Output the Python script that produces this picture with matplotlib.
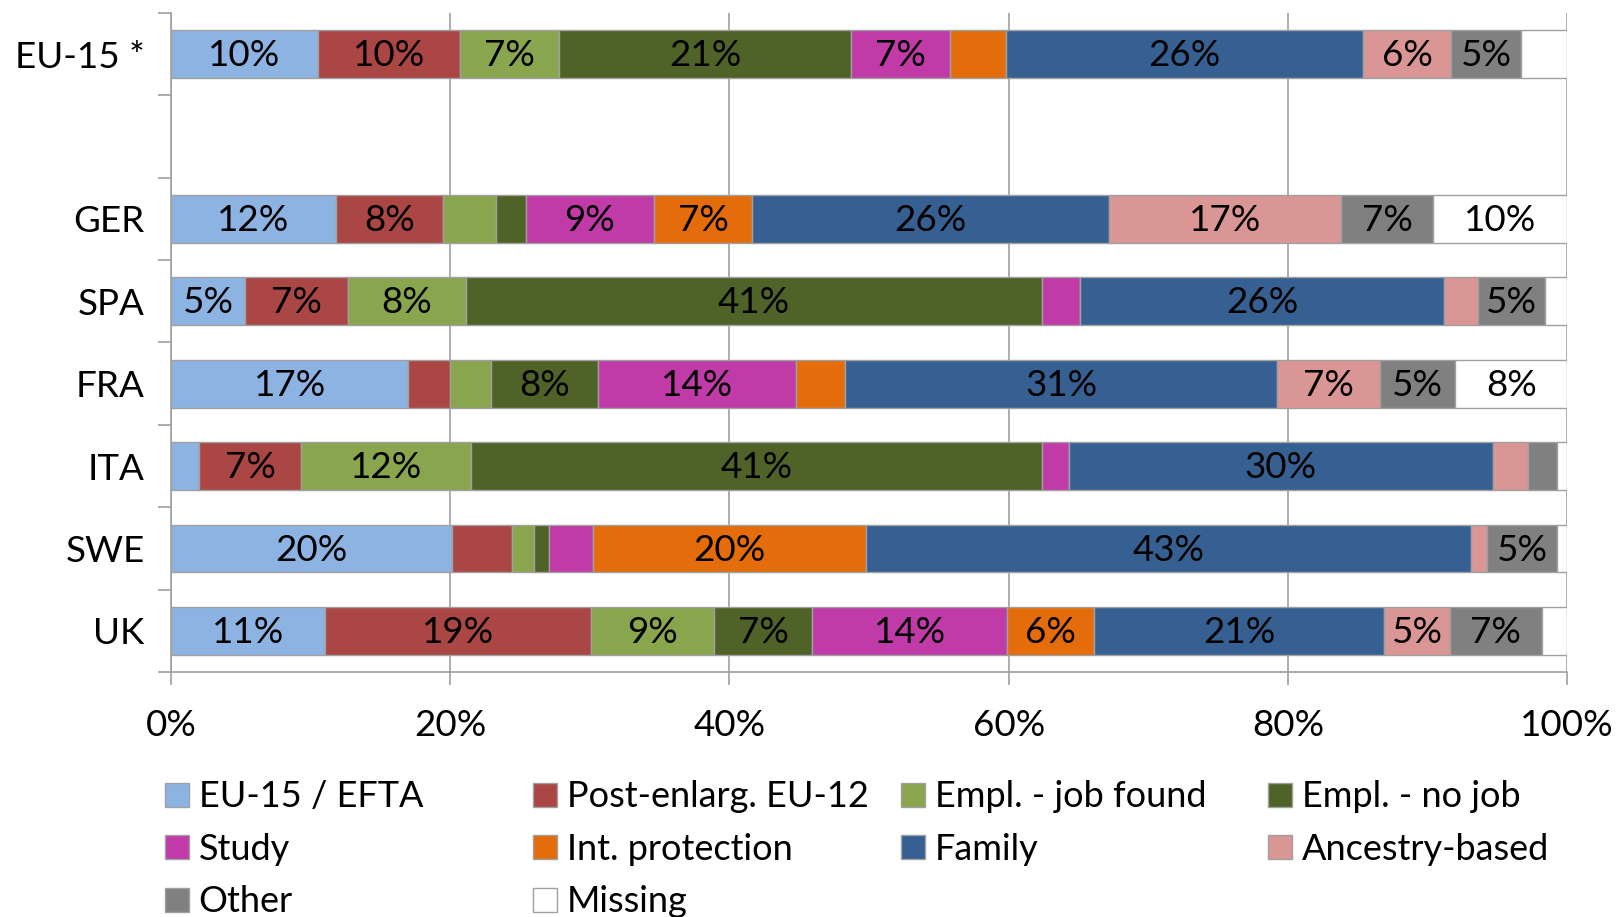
import numpy as np
import matplotlib
matplotlib.use('Agg')
import matplotlib.pyplot as plt
from matplotlib.patches import Patch

plt.rcParams['font.family'] = ['Lato', 'DejaVu Sans']

# categories (the blank row between EU-15 and GER is just a gap)
countries = ['EU-15 *', 'GER', 'SPA', 'FRA', 'ITA', 'SWE', 'UK']
rows = [0, 2, 3, 4, 5, 6, 7]

reasons = ['EU-15 / EFTA', 'Post-enlarg. EU-12', 'Empl. - job found', 'Empl. - no job',
           'Study', 'Int. protection', 'Family', 'Ancestry-based', 'Other', 'Missing']
colors = ['#8DB3E2', '#AA4644', '#89A54E', '#4F6228', '#C03AA8',
          '#E46C0A', '#376092', '#D99694', '#808080', '#FFFFFF']

# shares in % per country, same order as reasons
eu15 = [10.5, 10.2, 7.1, 20.9, 7.1, 4.0, 25.6, 6.3, 5.0, 3.3]
ger = [11.8, 7.7, 3.8, 2.1, 9.2, 7.0, 25.6, 16.6, 6.6, 9.6]
spa = [5.3, 7.4, 8.4, 41.3, 2.7, 0.0, 26.1, 2.4, 4.8, 1.6]
fra = [17.0, 3.0, 2.9, 7.7, 14.2, 3.5, 30.9, 7.4, 5.4, 8.0]
ita = [2.0, 7.3, 12.2, 40.9, 1.9, 0.0, 30.4, 2.5, 2.1, 0.7]
swe = [20.1, 4.3, 1.6, 1.1, 3.1, 19.6, 43.3, 1.2, 5.0, 0.7]
uk = [11.0, 19.1, 8.8, 7.0, 14.0, 6.2, 20.8, 4.7, 6.6, 1.8]

data = np.array([eu15, ger, spa, fra, ita, swe, uk])

fig = plt.figure(figsize=(16.17, 9.17), dpi=100)
ax = fig.add_axes([0.1058, 0.2672, 0.8633, 0.7186])

grey = '#A0A0A0'
fs = 26.5
left = np.zeros(len(rows))
for j, name in enumerate(reasons):
    vals = data[:, j]
    ax.barh(rows, vals, left=left, height=0.58, color=colors[j],
            edgecolor=grey, linewidth=1, zorder=3)
    for y, l, v in zip(rows, left, vals):
        if v >= 4.5:
            ax.text(l + v / 2, y + 0.02, f'{round(v)}%', ha='center', va='center',
                    fontsize=fs, color='black', zorder=4)
    left = left + vals

ax.set_xlim(0, 100)
ax.set_ylim(7.5, -0.5)
ax.set_xticks(np.arange(0, 101, 20))
ax.set_xticklabels([f'{v}%' for v in range(0, 101, 20)], fontsize=fs)
ax.set_yticks(rows)
ax.set_yticklabels(countries, fontsize=fs)
ax.set_yticks(np.arange(-0.5, 8, 1), minor=True)
ax.tick_params(axis='y', which='major', length=0, pad=19)
ax.tick_params(axis='y', which='minor', length=9.4, color=grey, width=1.2)
ax.tick_params(axis='x', length=9.4, color=grey, width=1.2, pad=17)
ax.grid(axis='x', color=grey, linewidth=1.2, zorder=0)
ax.set_axisbelow(True)
for s in ['top', 'right']:
    ax.spines[s].set_visible(False)
for s in ['left', 'bottom']:
    ax.spines[s].set_color(grey)
    ax.spines[s].set_linewidth(1.2)

# legend laid out like Excel: 4 equal columns, filled row by row
col_x = [0.102, 0.3296, 0.5572, 0.7842]
for c in range(4):
    idx = list(range(c, len(reasons), 4))
    handles = [Patch(facecolor=colors[i], edgecolor=grey, linewidth=1) for i in idx]
    fig.legend(handles, [reasons[i] for i in idx], loc='upper left',
               bbox_to_anchor=(col_x[c], 0.149), frameon=False, fontsize=26,
               handlelength=0.66, handleheight=0.66, handletextpad=0.27,
               labelspacing=0.54, borderpad=0, borderaxespad=0)

fig.savefig('out.png', dpi=100)
